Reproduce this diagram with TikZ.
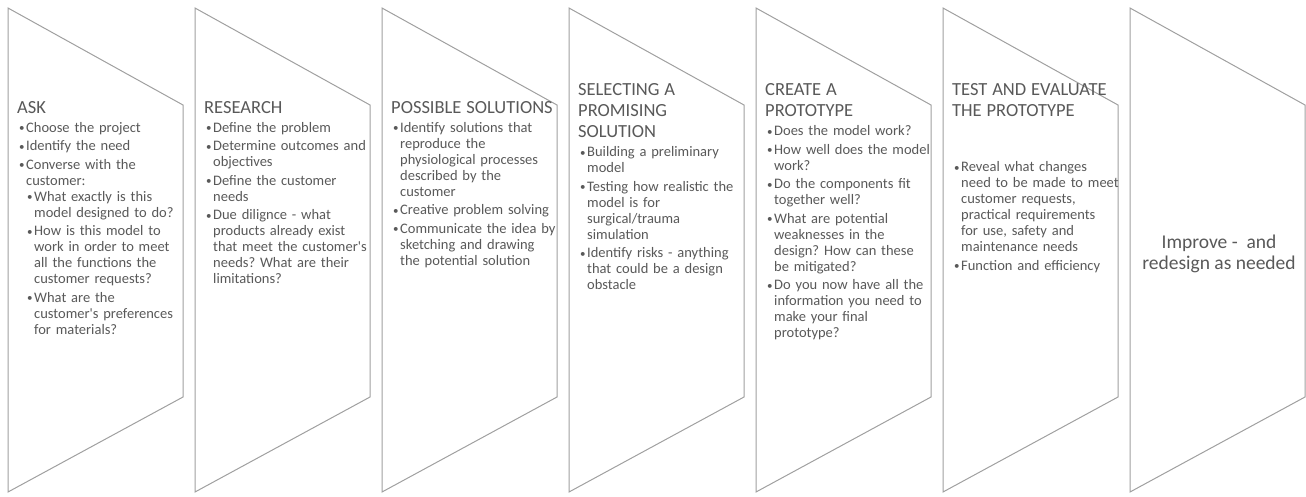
\documentclass[tikz,border=0pt]{standalone}
\usepackage{fontspec}
\setmainfont{Carlito}[Ligatures=TeXOff]
\definecolor{txt}{HTML}{595959}
\definecolor{edge}{HTML}{A0A0A0}
\frenchspacing
\newcommand\ttl[1]{{\fontsize{18.5}{21}\selectfont #1\par}\vspace{3pt}}
\newcommand\bul{\makebox[7pt][l]{\fontsize{11}{11}\selectfont\raisebox{0.5pt}{\textbullet}}}
\newcommand\itm[1]{{\leftskip=2pt\hangindent=7pt\hangafter=1\noindent\bul#1\par}\vspace{2.5pt}}
\newcommand\subitm[1]{{\leftskip=10pt\hangindent=7pt\hangafter=1\noindent\bul#1\par}\vspace{2.5pt}}
\tikzset{
  chev/.style={draw=edge, line width=1pt, fill=white, line join=miter},
  col/.style={anchor=north west, inner sep=0pt, text width=170pt, align=left,
    text=txt, font=\fontsize{14.5}{16}\selectfont},
  lastlbl/.style={inner sep=0pt, align=center, text=txt, font=\fontsize{19.5}{21}\selectfont},
}
\begin{document}
\begin{tikzpicture}[x=1pt,y=-1pt]
\useasboundingbox (0,0) rectangle (1306,496);
\foreach \i in {0,...,6}{
  \pgfmathsetmacro\L{8+187*\i}
  \pgfmathsetmacro\R{\L+175}
  \draw[chev] (\L,8) -- (\R,105) -- (\R,397) -- (\L,492) -- cycle;
}
\node[col] (ask) at (17,101) {\ttl{ASK}
\itm{Choose the project}
\itm{Identify the need}
\itm{Converse with the\newline customer:}\vspace{-2.5pt}
\subitm{What exactly is this\newline model designed to do?}
\subitm{How is this model to\newline work in order to meet\newline all the functions the\newline customer requests?}
\subitm{What are the\newline customer's preferences\newline for materials?}};
\node[col] (research) at (204,101) {\ttl{RESEARCH}
\itm{Define the problem}
\itm{Determine outcomes and\newline objectives}
\itm{Define the customer\newline needs}
\itm{Due dilignce - what\newline products already exist\newline that meet the customer's\newline needs? What are their\newline limitations?}};
\node[col] (possible) at (391,101) {\ttl{POSSIBLE SOLUTIONS}
\itm{Identify solutions that\newline reproduce the\newline physiological processes\newline described by the\newline customer}
\itm{Creative problem solving}
\itm{Communicate the idea by\newline sketching and drawing\newline the potential solution}};
\node[col] (selecting) at (578,83.5) {\ttl{SELECTING A\\PROMISING\\SOLUTION}
\itm{Building a preliminary\newline model}
\itm{Testing how realistic the\newline model is for\newline surgical/trauma\newline simulation}
\itm{Identify risks - anything\newline that could be a design\newline obstacle}};
\node[col] (create) at (765,83.5) {\ttl{CREATE A\\PROTOTYPE}
\itm{Does the model work?}
\itm{How well does the model\newline work?}
\itm{Do the components fit\newline together well?}
\itm{What are potential\newline weaknesses in the\newline design? How can these\newline be mitigated?}
\itm{Do you now have all the\newline information you need to\newline make your final\newline prototype?}};
\node[col] (test) at (952,83.5) {\ttl{TEST AND EVALUATE\\THE PROTOTYPE}\vspace{36pt}
\itm{Reveal what changes\newline need to be made to meet\newline customer requests,\newline practical requirements\newline for use, safety and\newline maintenance needs}
\itm{Function and efficiency}};
\node[lastlbl] (improve) at (1219,253.5) {Improve -\ \ and\\redesign as needed};
\end{tikzpicture}
\end{document}
